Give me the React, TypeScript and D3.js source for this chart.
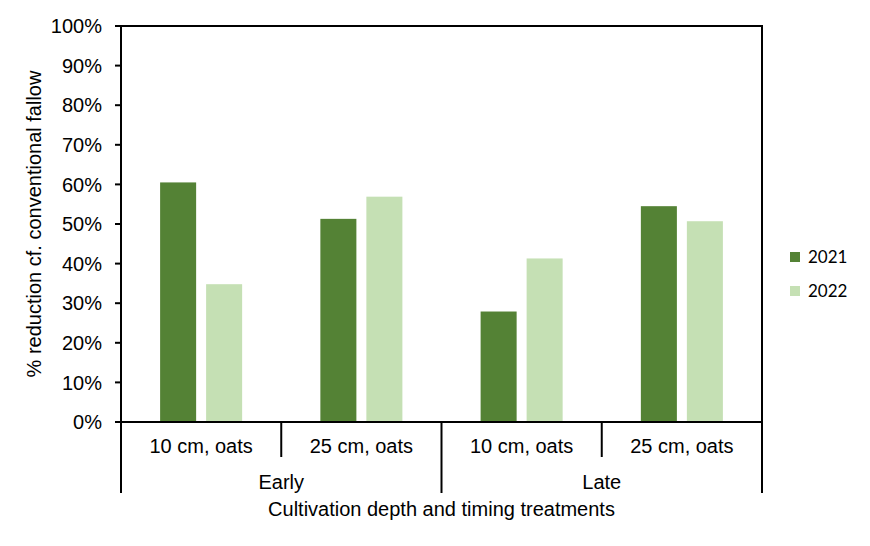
import React from "react";
import * as d3 from "d3";

const categories = ["10 cm, oats", "25 cm, oats", "10 cm, oats", "25 cm, oats"];
const groups = ["Early", "Late"];
const seriesNames = ["2021", "2022"];
const values2021 = [60.5, 51.3, 27.9, 54.5];
const values2022 = [34.8, 56.9, 41.3, 50.7];
const yTicks = [0, 10, 20, 30, 40, 50, 60, 70, 80, 90, 100];
const colors = ["#548235", "#C5E0B4"];

const W = 870, H = 546;
const left = 121, right = 762, top = 26, bottom = 422;

export default function App() {
  const x = d3.scaleBand<number>().domain(d3.range(categories.length)).range([left, right]);
  const y = d3.scaleLinear().domain([0, 100]).range([bottom, top]);
  const inner = d3.scaleBand<number>().domain([0, 1]).range([0, x.bandwidth()]).paddingInner(0.217).paddingOuter(0.85);
  const series = [values2021, values2022];
  const font = "'Liberation Sans', Arial, sans-serif";
  const fs = 20;
  const groupW = (right - left) / groups.length;
  return (
    <svg width={W} height={H} style={{ position: "absolute", left: 0, top: 0, background: "#fff" }}>
      {series.map((vals, si) =>
        vals.map((v, i) => (
          <rect key={`${si}-${i}`} x={x(i)! + inner(si)!} y={y(v)} width={inner.bandwidth()} height={y(0) - y(v)} fill={colors[si]} />
        ))
      )}
      <path d={`M${left},${bottom}V${top}H${right}V${bottom}H${left}`} fill="none" stroke="#000" strokeWidth={2} />
      {yTicks.map((t) => (
        <g key={t}>
          <line x1={left - 6} x2={left} y1={y(t)} y2={y(t)} stroke="#000" strokeWidth={2} />
          <text x={102} y={y(t)} dy="0.36em" textAnchor="end" fontFamily={font} fontSize={fs} fill="#000">{t}%</text>
        </g>
      ))}
      {d3.range(categories.length + 1).map((i) => {
        const xx = left + i * x.bandwidth();
        const isGroup = i % 2 === 0;
        return <line key={i} x1={xx} x2={xx} y1={bottom} y2={isGroup ? 493 : 457} stroke="#000" strokeWidth={2} />;
      })}
      {categories.map((c, i) => (
        <text key={i} x={x(i)! + x.bandwidth() / 2} y={453} textAnchor="middle" fontFamily={font} fontSize={fs} fill="#000">{c}</text>
      ))}
      {groups.map((g, i) => (
        <text key={g} x={left + groupW * (i + 0.5)} y={489} textAnchor="middle" fontFamily={font} fontSize={fs} fill="#000">{g}</text>
      ))}
      <text x={(left + right) / 2} y={516} textAnchor="middle" fontFamily={font} fontSize={fs} fill="#000">Cultivation depth and timing treatments</text>
      <text transform={`translate(41,${(top + bottom) / 2}) rotate(-90)`} textAnchor="middle" fontFamily={font} fontSize={fs} fill="#000">% reduction cf. conventional fallow</text>
      {seriesNames.map((s, i) => (
        <g key={s}>
          <rect x={790} y={252 + i * 34} width={10} height={10} fill={colors[i]} />
          <text x={808} y={257 + i * 34} dy="0.36em" fontFamily="Lato, 'Open Sans', sans-serif" fontSize={17} fill="#000">{s}</text>
        </g>
      ))}
    </svg>
  );
}
